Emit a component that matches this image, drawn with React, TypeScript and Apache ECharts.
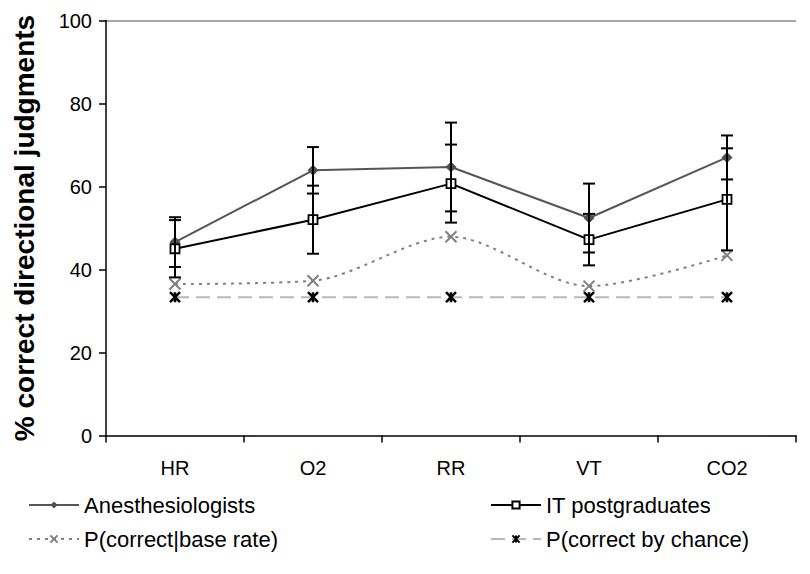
import React, { useEffect, useRef } from "react";
import * as echarts from "echarts";

const categories = ["HR", "O2", "RR", "VT", "CO2"];
const anesthesiologists = [46.6, 63.9, 64.7, 52.4, 67.0];
const anesErr = [6.0, 5.6, 10.7, 8.3, 5.3];
const itPostgrads = [45.0, 52.0, 60.7, 47.2, 56.9];
const itErr = [6.9, 8.2, 9.4, 6.2, 12.3];
const baseRate = [36.5, 37.3, 47.9, 36.0, 43.4];
const chance = [33.33, 33.33, 33.33, 33.33, 33.33];
const yTicks = { min: 0, max: 100, interval: 20 };

const FONT = "Liberation Sans, Arial, sans-serif";
const X_SYMBOL = "path://M0,0L10,10M10,0L0,10";
const STAR_SYMBOL = "path://M0,0L10,10M10,0L0,10M5,0L5,10";

function errorSeries(name: string, values: number[], errs: number[]) {
  return {
    type: "custom",
    name,
    z: 5,
    silent: true,
    data: values.map((v, i) => [i, v - errs[i], v + errs[i]]),
    encode: { x: 0, y: [1, 2] },
    renderItem: (params: any, api: any) => {
      const x = api.value(0);
      const lo = api.coord([x, api.value(1)]);
      const hi = api.coord([x, api.value(2)]);
      const cap = 6;
      const style = { stroke: "#000", lineWidth: 2 };
      return {
        type: "group",
        children: [
          { type: "line", shape: { x1: lo[0], y1: lo[1], x2: hi[0], y2: hi[1] }, style },
          { type: "line", shape: { x1: lo[0] - cap, y1: lo[1], x2: lo[0] + cap, y2: lo[1] }, style },
          { type: "line", shape: { x1: hi[0] - cap, y1: hi[1], x2: hi[0] + cap, y2: hi[1] }, style },
        ],
      };
    },
  };
}

export default function App() {
  const ref = useRef<HTMLDivElement>(null);
  useEffect(() => {
    if (!ref.current) return;
    const chart = echarts.init(ref.current, null, { renderer: "svg" });
    const legendCommon = {
      orient: "vertical",
      top: 494,
      height: 78,
      padding: 0,
      itemGap: 12,
      itemWidth: 50,
      itemHeight: 9,
      textStyle: { color: "#000", fontSize: 22, fontFamily: FONT },
    };
    chart.setOption({
      animation: false,
      backgroundColor: "#fff",
      textStyle: { fontFamily: FONT },
      grid: { left: 106, top: 20.5, right: 14, bottom: 138.5, containLabel: false },
      xAxis: {
        type: "category",
        data: categories,
        boundaryGap: true,
        axisLine: { lineStyle: { color: "#000", width: 1.5 } },
        axisTick: { show: true, length: 7, lineStyle: { color: "#000", width: 1.5 } },
        axisLabel: { color: "#000", fontSize: 20, fontFamily: FONT, margin: 22 },
        splitLine: { show: false },
      },
      yAxis: {
        type: "value",
        min: yTicks.min,
        max: yTicks.max,
        interval: yTicks.interval,
        axisLine: { show: true, lineStyle: { color: "#000", width: 1.5 } },
        axisTick: { show: true, length: 7, lineStyle: { color: "#000", width: 1.5 } },
        axisLabel: { color: "#000", fontSize: 20, fontFamily: FONT, margin: 14 },
        splitLine: {
          show: true,
          lineStyle: {
            color: [
              "rgba(0,0,0,0)",
              "rgba(0,0,0,0)",
              "rgba(0,0,0,0)",
              "rgba(0,0,0,0)",
              "rgba(0,0,0,0)",
              "#888888",
            ],
            width: 1.5,
          },
        },
      },
      legend: [
        { ...legendCommon, left: 28, data: ["Anesthesiologists", "P(correct|base rate)"] },
        { ...legendCommon, left: 490, data: ["IT postgraduates", "P(correct by chance)"] },
      ],
      graphic: [
        {
          type: "text",
          x: 24,
          y: 228,
          rotation: Math.PI / 2,
          style: {
            text: "% correct directional judgments",
            font: "bold 28px Liberation Sans, Arial, sans-serif",
            fill: "#000",
            textAlign: "center",
            textVerticalAlign: "middle",
          },
        },
      ],
      series: [
        {
          type: "line",
          name: "P(correct by chance)",
          data: chance,
          z: 2,
          symbol: STAR_SYMBOL,
          symbolSize: 10,
          itemStyle: { color: "rgba(0,0,0,0)", borderColor: "#000", borderWidth: 2.5 },
          lineStyle: { color: "#b8b8b8", width: 2, type: [14, 7] },
        },
        {
          type: "line",
          name: "P(correct|base rate)",
          data: baseRate,
          z: 3,
          smooth: 0.3,
          symbol: X_SYMBOL,
          symbolSize: 11,
          itemStyle: { color: "rgba(0,0,0,0)", borderColor: "#808080", borderWidth: 2 },
          lineStyle: { color: "#808080", width: 2, type: [3, 5] },
        },
        {
          type: "line",
          name: "Anesthesiologists",
          data: anesthesiologists,
          z: 3,
          symbol: "diamond",
          symbolSize: 11,
          itemStyle: { color: "#505050" },
          lineStyle: { color: "#555555", width: 2 },
        },
        {
          type: "line",
          name: "IT postgraduates",
          data: itPostgrads,
          z: 4,
          symbol: "rect",
          symbolSize: 9,
          itemStyle: { color: "#fff", borderColor: "#000", borderWidth: 1.8 },
          lineStyle: { color: "#000", width: 2 },
        },
        errorSeries("anesErr", anesthesiologists, anesErr),
        errorSeries("itErr", itPostgrads, itErr),
      ],
    });
    return () => chart.dispose();
  }, []);
  return (
    <div
      style={{
        position: "fixed",
        left: 0,
        top: 0,
        width: 810,
        height: 574,
        overflow: "hidden",
        background: "#fff",
      }}
    >
      <div ref={ref} style={{ width: 810, height: 574 }} />
    </div>
  );
}
